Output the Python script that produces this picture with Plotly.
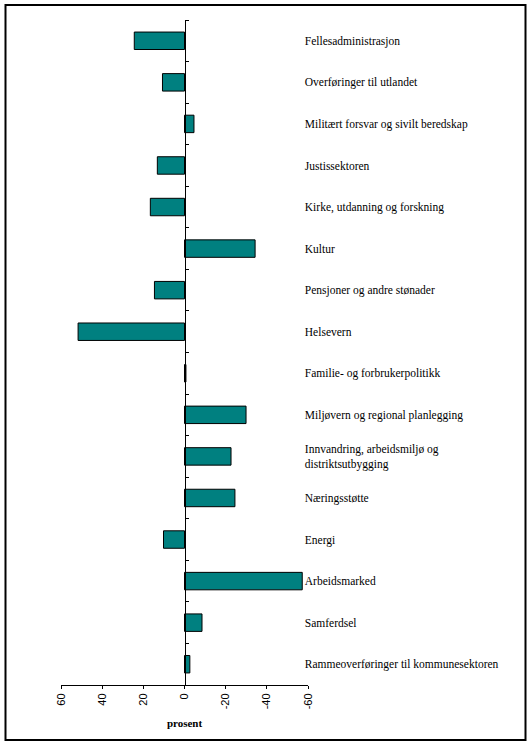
"""Endring i utgifter etter sektor, prosent"""
import plotly.graph_objs as go

# categories, top to bottom
categories = [
    'Fellesadministrasjon',
    'Overføringer til utlandet',
    'Militært forsvar og sivilt beredskap',
    'Justissektoren',
    'Kirke, utdanning og forskning',
    'Kultur',
    'Pensjoner og andre stønader',
    'Helsevern',
    'Familie- og forbrukerpolitikk',
    'Miljøvern og regional planlegging',
    'Innvandring, arbeidsmiljø og<br>distriktsutbygging',
    'Næringsstøtte',
    'Energi',
    'Arbeidsmarked',
    'Samferdsel',
    'Rammeoverføringer til kommunesektoren',
]

# change in percent (x axis is reversed: positive to the left)
values = [24.4, 10.7, -4.6, 13.2, 16.6, -34.3, 14.6, 51.7,
          -0.7, -29.9, -22.6, -24.5, 10.2, -57.2, -8.5, -2.6]

tick_values = [60, 40, 20, 0, -20, -40, -60]

W, H = 530, 746
L, R, T, B = 61, 222, 20, 61
plot_w = W - L - R
plot_h = H - T - B


def px_x(px):
    return (px - L) / plot_w


def px_y(px):
    return (H - B - px) / plot_h


data = [go.Bar(
    x=values,
    y=categories,
    orientation='h',
    marker=dict(color='#008080', line=dict(color='black', width=1)),
    hoverinfo='x+y',
)]

layout = go.Layout(
    width=W,
    height=H,
    margin=dict(l=L, r=R, t=T, b=B),
    plot_bgcolor='white',
    paper_bgcolor='white',
    showlegend=False,
    bargap=0.58,

    xaxis=dict(
        range=[60, -60],
        tickvals=tick_values,
        ticktext=[str(v) for v in tick_values],
        tickangle=-90,
        ticks='outside',
        ticklen=3,
        tickcolor='black',
        showline=True,
        linecolor='black',
        linewidth=1,
        showgrid=False,
        zeroline=False,
        tickfont=dict(family='Liberation Sans', size=11, color='black'),
        title=dict(text='<b>prosent</b>', standoff=10,
                   font=dict(family='Liberation Serif', size=11,
                             color='black')),
    ),

    yaxis=dict(
        type='category',
        categoryorder='array',
        categoryarray=categories,
        autorange='reversed',
        anchor='free',
        position=0.5,
        side='right',
        showline=True,
        linecolor='black',
        linewidth=1,
        ticks='outside',
        ticklen=3,
        tickcolor='black',
        tickson='boundaries',
        showgrid=False,
        zeroline=False,
        ticklabelstandoff=117,
        tickfont=dict(family='Liberation Serif', size=11.5, color='black'),
    ),

    # frame round the whole chart
    shapes=[dict(
        type='rect', xref='paper', yref='paper',
        x0=px_x(5.5), x1=px_x(525.5), y0=px_y(740), y1=px_y(5),
        line=dict(color='black', width=2),
    )],
)

fig = go.Figure(data=data, layout=layout)
# no body margin so the figure fills the window exactly
fig.write_html('out.html',
               config={'displayModeBar': False},
               post_script="document.body.style.margin='0';"
                           "document.body.style.overflow='hidden';")
